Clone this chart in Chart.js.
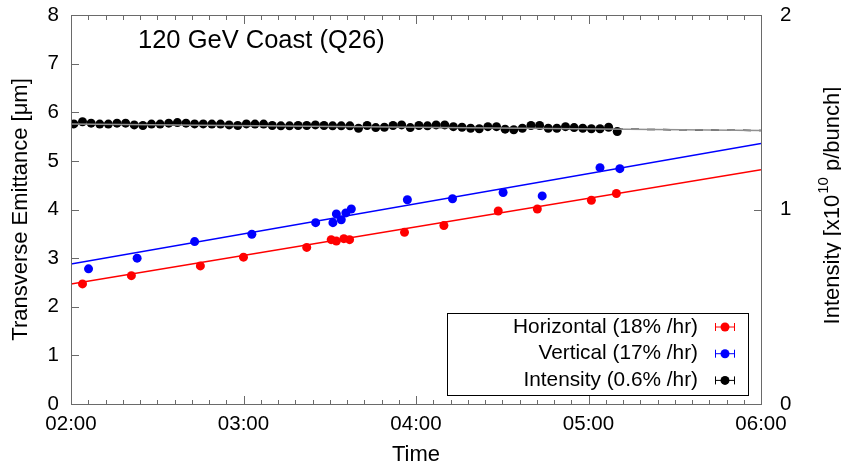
<!DOCTYPE html>
<html>
<head>
<meta charset="utf-8">
<script src="https://cdn.jsdelivr.net/npm/chart.js@4.4.1/dist/chart.umd.min.js"></script>
<style>
  body { margin: 0; background: #fff; }
</style>
</head>
<body>
<canvas id="coast-chart" width="841" height="468"></canvas>
<script>
// times are minutes after 02:00
const hTime = [4, 21, 45, 60, 82, 90.5, 92.3, 94.9, 96.9, 116, 129.7, 148.6, 162.2, 181, 189.7];
const hEmit = [2.47, 2.64, 2.84, 3.02, 3.22, 3.38, 3.35, 3.40, 3.38, 3.53, 3.67, 3.97, 4.01, 4.19, 4.33];

const vTime = [6.1, 23, 43, 62.9, 85.1, 91.1, 92.3, 94, 95.6, 97.5, 117, 132.7, 150.3, 163.9, 184, 190.9];
const vEmit = [2.78, 3.00, 3.34, 3.49, 3.73, 3.73, 3.91, 3.79, 3.93, 4.01, 4.20, 4.22, 4.35, 4.28, 4.86, 4.84];

const iTime = [1, 4, 7, 10, 13, 16, 19, 22, 25, 28, 31, 34, 37, 40, 43, 46, 49, 52, 55, 58,
               61, 64, 67, 70, 73, 76, 79, 82, 85, 88, 91, 94, 97, 100, 103, 106, 109, 112, 115, 118,
               121, 124, 127, 130, 133, 136, 139, 142, 145, 148, 151, 154, 157, 160, 163, 166, 169, 172, 175, 178,
               181, 184, 187, 190];
const iVal = [1.440, 1.451, 1.444, 1.439, 1.439, 1.444, 1.444, 1.435, 1.432, 1.439, 1.439, 1.444, 1.447, 1.444, 1.440, 1.440, 1.439, 1.439, 1.435, 1.432,
              1.440, 1.439, 1.439, 1.432, 1.430, 1.430, 1.432, 1.432, 1.435, 1.432, 1.430, 1.430, 1.430, 1.418, 1.432, 1.421, 1.423, 1.432, 1.435, 1.421,
              1.432, 1.430, 1.435, 1.435, 1.426, 1.423, 1.418, 1.415, 1.426, 1.426, 1.413, 1.410, 1.418, 1.432, 1.432, 1.418, 1.418, 1.426, 1.421, 1.418,
              1.415, 1.415, 1.423, 1.401];

// linear fits, value at 02:00 and 06:00
const fitTime = [0, 240];
const hFit = [2.47, 4.82];
const vFit = [2.88, 5.36];
const iFit = [1.44, 1.406];

const timeTicks = [0, 60, 120, 180, 240];
const timeLabels = ["02:00", "03:00", "04:00", "05:00", "06:00"];
const minorTicks = [0, 6, 12, 18, 24, 30, 36, 42, 48, 54, 60, 66, 72, 78, 84, 90, 96, 102, 108, 114, 120,
                    126, 132, 138, 144, 150, 156, 162, 168, 174, 180, 186, 192, 198, 204, 210, 216, 222, 228, 234, 240];
const emitTicks = [0, 1, 2, 3, 4, 5, 6, 7, 8];
const intTicks = [0, 1, 2];
const legendLabels = ["Horizontal (18% /hr)", "Vertical (17% /hr)", "Intensity (0.6% /hr)"];
const legendColors = ["#ff0000", "#0000ff", "#000000"];

const FONT = "'Liberation Sans', Arial, sans-serif";
const AXIS = "#6a6a6a";

function pts(xs, ys) {
    return xs.map((x, i) => ({x: x, y: ys[i]}));
}

const decorPlugin = {
    id: 'decor',
    afterDraw(chart) {
        const ctx = chart.ctx;
        const a = chart.chartArea;
        const sx = chart.scales.x, sy = chart.scales.y, sy2 = chart.scales.y2;
        const L = Math.round(a.left), R = Math.round(a.right);
        const T = Math.round(a.top), B = Math.round(a.bottom);
        ctx.save();
        ctx.setLineDash([]);
        ctx.fillStyle = AXIS;
        // frame
        ctx.fillRect(L, T, R - L + 1, 1);
        ctx.fillRect(L, B, R - L + 1, 1);
        ctx.fillRect(L, T, 1, B - T + 1);
        ctx.fillRect(R, T, 1, B - T + 1);

        // inward ticks
        minorTicks.forEach(m => {
            const px = Math.round(sx.getPixelForValue(m));
            const len = (m % 60 === 0) ? 8 : 4;
            ctx.fillRect(px, B - len, 1, len);
            ctx.fillRect(px, T + 1, 1, len);
        });
        emitTicks.forEach(v => {
            const py = Math.round(sy.getPixelForValue(v));
            ctx.fillRect(L + 1, py, 7, 1);
        });
        intTicks.forEach(v => {
            const py = Math.round(sy2.getPixelForValue(v));
            ctx.fillRect(R - 7, py, 7, 1);
        });

        // title inside the plot
        ctx.fillStyle = "#000";
        ctx.font = "25.5px " + FONT;
        ctx.textAlign = "left";
        ctx.textBaseline = "alphabetic";
        ctx.fillText("120 GeV Coast (Q26)", 138, 48);

        // legend
        ctx.lineWidth = 1;
        ctx.strokeStyle = "#000";
        ctx.strokeRect(447.5, 313.5, 301, 82);
        ctx.font = "20.8px " + FONT;
        ctx.textAlign = "right";
        ctx.textBaseline = "middle";
        legendLabels.forEach((t, i) => {
            const y = 327 + i * 26.7;
            ctx.fillStyle = "#000";
            ctx.fillText(t, 698, y);
            ctx.strokeStyle = legendColors[i];
            ctx.beginPath();
            ctx.moveTo(715, y); ctx.lineTo(735, y);
            ctx.moveTo(715.5, y - 4); ctx.lineTo(715.5, y + 4);
            ctx.moveTo(734.5, y - 4); ctx.lineTo(734.5, y + 4);
            ctx.stroke();
            ctx.fillStyle = legendColors[i];
            ctx.beginPath();
            ctx.arc(725, y, 4.5, 0, Math.PI * 2);
            ctx.fill();
        });

        // right axis title with superscript
        ctx.translate(833, 206);
        ctx.rotate(-Math.PI / 2);
        ctx.fillStyle = "#000";
        ctx.textAlign = "left";
        ctx.textBaseline = "middle";
        const p1 = "Intensity [x10", sup = "10", p2 = " p/bunch]";
        ctx.font = "22px " + FONT;
        const w1 = ctx.measureText(p1).width, w3 = ctx.measureText(p2).width;
        ctx.font = "15px " + FONT;
        const w2 = ctx.measureText(sup).width;
        let x0 = -(w1 + w2 + w3) / 2;
        ctx.font = "22px " + FONT;
        ctx.fillText(p1, x0, 0);
        ctx.font = "15px " + FONT;
        ctx.fillText(sup, x0 + w1 + 1, -9);
        ctx.font = "22px " + FONT;
        ctx.fillText(p2, x0 + w1 + w2 + 1, 0);
        ctx.restore();
    }
};

new Chart(document.getElementById("coast-chart"), {
    type: 'scatter',
    data: {
        datasets: [
            {
                label: "Intensity fit",
                data: pts(fitTime, iFit),
                yAxisID: 'y2',
                showLine: true,
                borderColor: "#909090",
                borderWidth: 1.5,
                pointRadius: 0
            },
            {
                label: "Intensity fit dashes",
                data: pts(fitTime, iFit),
                yAxisID: 'y2',
                showLine: true,
                borderColor: "#000",
                borderWidth: 1.5,
                borderDash: [8, 8],
                pointRadius: 0
            },
            {
                label: "Horizontal fit",
                data: pts(fitTime, hFit),
                showLine: true,
                borderColor: "#ff0000",
                borderWidth: 1.5,
                pointRadius: 0
            },
            {
                label: "Vertical fit",
                data: pts(fitTime, vFit),
                showLine: true,
                borderColor: "#0000ff",
                borderWidth: 1.5,
                pointRadius: 0
            },
            {
                label: legendLabels[0],
                data: pts(hTime, hEmit),
                backgroundColor: "#ff0000",
                borderColor: "#ff0000",
                pointRadius: 4.5,
                borderWidth: 0
            },
            {
                label: legendLabels[1],
                data: pts(vTime, vEmit),
                backgroundColor: "#0000ff",
                borderColor: "#0000ff",
                pointRadius: 4.5,
                borderWidth: 0
            },
            {
                label: legendLabels[2],
                data: pts(iTime, iVal),
                yAxisID: 'y2',
                backgroundColor: "#000",
                borderColor: "#000",
                pointRadius: 4.5,
                borderWidth: 0
            }
        ]
    },
    options: {
        responsive: false,
        animation: false,
        devicePixelRatio: 1,
        layout: { padding: { top: 15, left: 0, right: 0, bottom: 0 } },
        plugins: {
            legend: { display: false },
            tooltip: { enabled: false }
        },
        scales: {
            x: {
                type: 'linear',
                min: 0,
                max: 240,
                afterBuildTicks: s => { s.ticks = timeTicks.map(v => ({value: v})); },
                afterFit: s => { s.height = 64; s.paddingLeft = 0; s.paddingRight = 0; },
                ticks: {
                    callback: v => timeLabels[timeTicks.indexOf(v)],
                    font: { family: FONT, size: 20.5 },
                    color: "#000",
                    padding: 8,
                    maxRotation: 0
                },
                grid: { display: false, drawTicks: false },
                border: { display: false },
                title: {
                    display: true,
                    text: "Time",
                    font: { family: FONT, size: 22 },
                    color: "#000",
                    padding: { top: 0, bottom: 0 }
                }
            },
            y: {
                position: 'left',
                min: 0,
                max: 8,
                afterFit: s => { s.width = 71; s.paddingTop = 0; s.paddingBottom = 0; },
                ticks: {
                    stepSize: 1,
                    font: { family: FONT, size: 20.5 },
                    color: "#000",
                    padding: 12
                },
                grid: { display: false, drawTicks: false },
                border: { display: false },
                title: {
                    display: true,
                    text: "Transverse Emittance [\u03bcm]",
                    font: { family: FONT, size: 22 },
                    color: "#000",
                    padding: { top: 8, bottom: 0 }
                }
            },
            y2: {
                position: 'right',
                min: 0,
                max: 2,
                afterFit: s => { s.width = 80; s.paddingTop = 0; s.paddingBottom = 0; },
                ticks: {
                    stepSize: 1,
                    font: { family: FONT, size: 20.5 },
                    color: "#000",
                    padding: 19
                },
                grid: { display: false, drawTicks: false },
                border: { display: false }
            }
        }
    },
    plugins: [decorPlugin]
});
</script>
</body>
</html>
